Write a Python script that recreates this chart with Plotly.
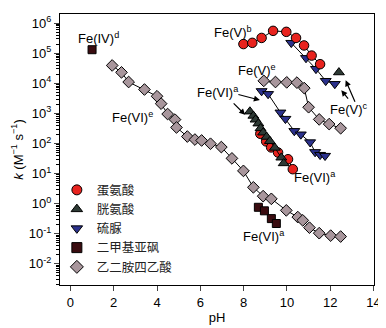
import plotly.graph_objects as go
import numpy as np

# ---- data ----
edta_fe6_ph = [1.93, 2.36, 2.69, 3.42, 4.00, 4.19, 4.49, 4.83, 4.90, 5.40, 5.75, 6.06, 6.47, 6.97,
               7.46, 7.99, 8.45, 8.90, 9.28, 9.97, 10.50, 10.73, 11.04, 11.49, 12.02, 12.48]
edta_fe6_k = [3.9e4, 2.3e4, 1.1e4, 6.2e3, 3.7e3, 2.1e3, 9.5e2, 6.2e2, 3.4e2, 1.7e2, 1.35e2, 1.26e2, 98, 76,
              32, 12.3, 3.5, 1.78, 1.45, 0.60, 0.36, 0.28, 0.16, 0.105, 0.087, 0.081]

edta_fe5_ph = [8.93, 9.47, 9.99, 10.46, 10.80, 11.00, 11.49, 11.95, 12.48]
edta_fe5_k = [1.2e4, 1.1e4, 1.07e4, 1.05e4, 6.9e3, 1.6e3, 6.3e2, 4.4e2, 3.2e2]

met_fe5_ph = [7.99, 8.40, 8.83, 9.36, 9.97, 10.42, 10.79, 11.14, 11.53]
met_fe5_k = [2.0e5, 2.2e5, 3.2e5, 5.5e5, 5.1e5, 3.2e5, 1.8e5, 8.3e4, 4.3e4]

thio_fe5_ph = [10.20, 10.88, 11.34, 11.79, 12.21]
thio_fe5_k = [2.2e5, 6.9e4, 3.0e4, 1.2e4, 9.5e3]

cys_fe5_ph = [12.4]
cys_fe5_k = [2.3e4]

thio_fe6_ph = [8.83, 9.13, 9.70, 9.93, 10.34, 10.64, 11.07, 11.30, 11.53, 11.76]
thio_fe6_k = [5.5e3, 4.4e3, 1.07e3, 6.6e2, 2.6e2, 2.0e2, 1.1e2, 52, 42, 39]

cys_fe6_ph = [8.29, 8.45, 8.55, 8.68, 8.78, 8.90, 9.06, 9.21, 9.44, 9.74, 9.85]
cys_fe6_k = [1.15e3, 8.3e2, 6.2e2, 4.6e2, 3.2e2, 2.3e2, 1.66e2, 1.2e2, 72, 34, 22]

met_fe6_ph = [8.77, 9.04, 9.27, 9.59, 10.05, 10.27]
met_fe6_k = [2.1e2, 1.17e2, 74, 50, 30, 14]

dmso_fe6_ph = [8.68, 8.96, 9.28, 9.51]
dmso_fe6_k = [0.76, 0.58, 0.32, 0.22]

dmso_fe4_ph = [1.0]
dmso_fe4_k = [1.3e5]

legend_names = ["蛋氨酸", "胱氨酸", "硫脲", "二甲基亚砜", "乙二胺四乙酸"]
x_ticks = [0, 2, 4, 6, 8, 10, 12, 14]
y_tick_exps = [-2, -1, 0, 1, 2, 3, 4, 5, 6]

# ---- styles ----
C_MET = "#e8231e"
C_CYS = "#2e3a35"
C_THIO = "#2b318c"
C_DMSO = "#3a0c10"
C_EDTA = "#a8969c"
FONT = "Liberation Sans, Arial, sans-serif"
CJK = "Noto Sans CJK SC, Liberation Sans, sans-serif"
OUT = dict(color="black", width=1)
LINE = dict(color="black", width=1)

fig = go.Figure()

def add(ph, k, sym, color, size, mode="lines+markers"):
    fig.add_trace(go.Scatter(x=ph, y=k, mode=mode, showlegend=False, line=LINE,
                             marker=dict(symbol=sym, color=color, size=size, line=OUT)))

add(edta_fe6_ph, edta_fe6_k, "diamond", C_EDTA, 9)
add(edta_fe5_ph, edta_fe5_k, "diamond", C_EDTA, 9)
add(dmso_fe6_ph, dmso_fe6_k, "square", C_DMSO, 8, mode="markers")
add(dmso_fe4_ph, dmso_fe4_k, "square", C_DMSO, 8, mode="markers")
add(thio_fe5_ph, thio_fe5_k, "triangle-down", C_THIO, 9.5)
add(thio_fe6_ph, thio_fe6_k, "triangle-down", C_THIO, 9.5)
add(met_fe5_ph, met_fe5_k, "circle", C_MET, 9.5)
add(met_fe6_ph, met_fe6_k, "circle", C_MET, 9.5)
add(cys_fe6_ph, cys_fe6_k, "triangle-up", C_CYS, 9.5)
add(cys_fe5_ph, cys_fe5_k, "triangle-up", C_CYS, 9.5, mode="markers")

# legend-only entries
for name, sym, col in zip(legend_names,
                          ["circle", "triangle-up", "triangle-down", "square", "diamond"],
                          [C_MET, C_CYS, C_THIO, C_DMSO, C_EDTA]):
    fig.add_trace(go.Scatter(x=[None], y=[None], mode="markers", name=name,
                             marker=dict(symbol=sym, color=col, size=10, line=OUT)))

# ---- annotations ----
def label(txt, x, ylog):
    fig.add_annotation(x=x, y=ylog, text=txt, showarrow=False,
                       font=dict(family=FONT, size=13, color="black"))

def arrow(x, ylog, ax, ay):
    fig.add_annotation(x=x, y=ylog, text="", showarrow=True, ax=ax, ay=ay,
                       arrowhead=2, arrowsize=1, arrowwidth=1.2, arrowcolor="black")

label("Fe(IV)<sup>d</sup>", 1.28, 5.51)
label("Fe(VI)<sup>e</sup>", 2.88, 2.89)
label("Fe(V)<sup>b</sup>", 7.49, 5.70)
label("Fe(V)<sup>e</sup>", 8.63, 4.43)
label("Fe(VI)<sup>a</sup>", 6.80, 3.70)
label("Fe(VI)<sup>a</sup>", 11.28, 0.89)
label("Fe(VI)<sup>a</sup>", 8.95, -1.08)
label("Fe(V)<sup>c</sup>", 12.88, 3.15)

arrow(8.75, 3.44, -23, -6)
arrow(8.07, 2.95, -13, -13)
arrow(12.71, 4.10, 10, 23)
arrow(12.51, 3.77, 8, 10)

minor_vals = [m * 10.0 ** e for e in range(-3, 7) for m in range(2, 10)]

# the page body has an 8 px margin, so the figure is drawn 8 px right and down
fig.update_layout(
    width=378, height=320,
    margin=dict(l=52, r=9, t=5, b=41),
    paper_bgcolor="white", plot_bgcolor="white",
    font=dict(family=FONT, size=13, color="black"),
    legend=dict(x=-0.01, y=0.405, xanchor="left", yanchor="top",
                bgcolor="rgba(0,0,0,0)", font=dict(family=CJK, size=12.5, color="#222"),
                itemwidth=30, tracegroupgap=0),
    xaxis=dict(range=[-0.48, 14.02], tickvals=x_ticks, ticks="outside", ticklen=5,
               showgrid=False, zeroline=False, showline=True, linecolor="black",
               linewidth=1.2, mirror=True,
               title=dict(text="pH", font=dict(size=13), standoff=4)),
    yaxis=dict(type="log", range=[-2.7, 6.3],
               tickvals=[10.0 ** e for e in y_tick_exps],
               ticktext=["10<sup>%d</sup>" % e for e in y_tick_exps],
               ticks="outside", ticklen=5, showgrid=False, zeroline=False,
               showline=True, linecolor="black", linewidth=1.2, mirror=True,
               minor=dict(tickvals=minor_vals, ticks="outside", ticklen=3,
                          tickcolor="black", showgrid=False),
               title=dict(text="<i>k</i> (M<sup>−1</sup> s<sup>−1</sup>)", font=dict(size=13),
                          standoff=2)),
)

fig.write_html("out.html")
